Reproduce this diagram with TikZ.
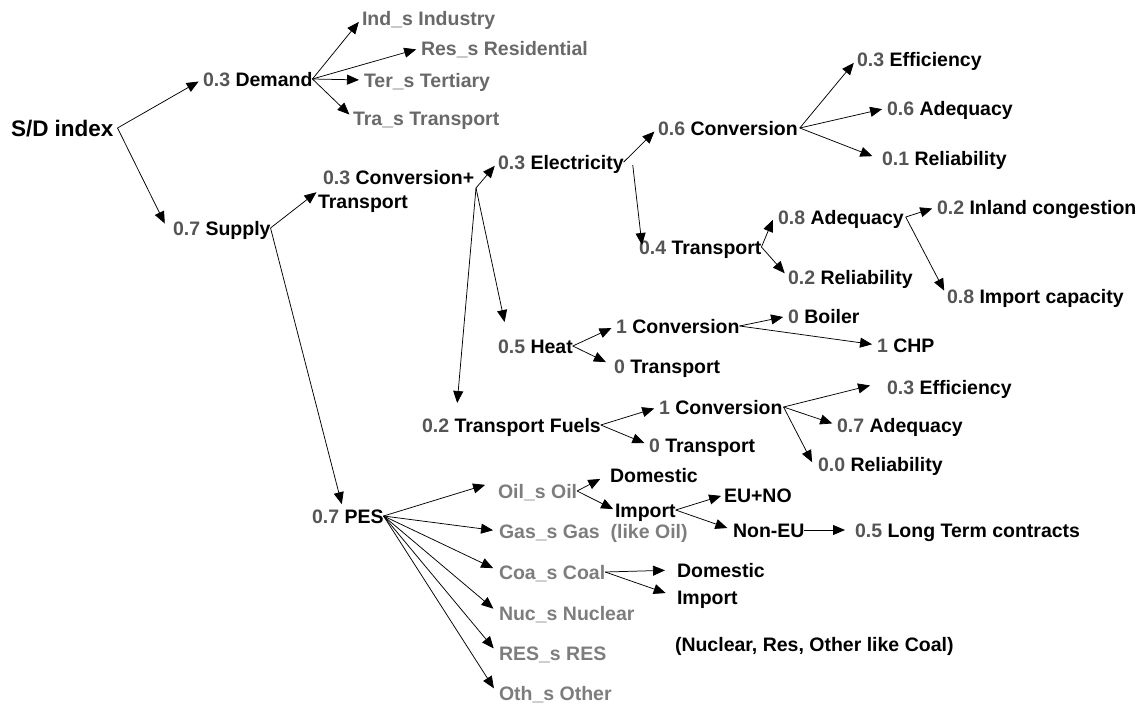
\documentclass[tikz,border=0pt]{standalone}
\usepackage{fontspec}
\setmainfont{Liberation Sans}
\usetikzlibrary{arrows.meta}
\definecolor{numc}{RGB}{85,85,85}
\definecolor{catd}{RGB}{105,105,105}
\definecolor{catp}{RGB}{125,125,125}
\newcommand\wt[1]{\textcolor{numc}{#1}}
\begin{document}
\begin{tikzpicture}[x=1pt,y=-1pt,
  lbl/.style={anchor=west,inner sep=0pt,outer sep=0pt,text height=14pt,text depth=0pt,font=\bfseries\fontsize{19.5}{22}\selectfont},
  cd/.style={lbl,text=catd},
  cp/.style={lbl,text=catp},
  arr/.style={draw=black,line width=0.75pt,-{Triangle[length=12pt,width=10pt]},shorten >=#1},
  arr/.default=5pt]
\useasboundingbox (0,0) rectangle (1143,704);

% ---- nodes ----
\node[lbl,font=\bfseries\fontsize{22.5}{24}\selectfont,text height=16pt] (sd) at (11,128) {S/D index};
\node[lbl] (demand) at (203,79) {\wt{0.3} Demand};
\node[cd] (ind) at (362,18) {Ind\_s Industry};
\node[cd] (res) at (421,48) {Res\_s Residential};
\node[cd] (ter) at (364,80) {Ter\_s Tertiary};
\node[cd] (tra) at (353,118) {Tra\_s Transport};
\node[lbl] (supply) at (173,228) {\wt{0.7} Supply};
\node[lbl] (convp) at (323,177) {\wt{0.3} Conversion+};
\node[lbl] (convpb) at (318,201) {Transport};
\coordinate (cpo) at (476,188);
\node[lbl] (elec) at (498,162) {\wt{0.3} Electricity};
\node[lbl] (conv6) at (658,128) {\wt{0.6} Conversion};
\node[lbl] (eff3) at (857,59) {\wt{0.3} Efficiency};
\node[lbl] (adeq6) at (887,108) {\wt{0.6} Adequacy};
\node[lbl] (rel1) at (882,158) {\wt{0.1} Reliability};
\node[lbl] (tr4) at (639,247) {\wt{0.4} Transport};
\node[lbl] (adeq8) at (778,217) {\wt{0.8} Adequacy};
\node[lbl] (rel2) at (788,277) {\wt{0.2} Reliability};
\node[lbl] (inland) at (937,207) {\wt{0.2} Inland congestion};
\node[lbl] (impcap) at (947,296) {\wt{0.8} Import capacity};
\node[lbl] (heat) at (498,346) {\wt{0.5} Heat};
\node[lbl] (hconv) at (616,326) {\wt{1} Conversion};
\node[lbl] (htr) at (614,366) {\wt{0} Transport};
\node[lbl] (boiler) at (788,316) {\wt{0} Boiler};
\node[lbl] (chp) at (877,345) {\wt{1} CHP};
\node[lbl] (tf) at (422,425) {\wt{0.2} Transport Fuels};
\node[lbl] (tconv) at (659,407) {\wt{1} Conversion};
\node[lbl] (ttr) at (649,445) {\wt{0} Transport};
\node[lbl] (eff3b) at (887,387) {\wt{0.3} Efficiency};
\node[lbl] (adeq7) at (837,425) {\wt{0.7} Adequacy};
\node[lbl] (rel0) at (818,464) {\wt{0.0} Reliability};
\node[lbl] (pes) at (312,516) {\wt{0.7} PES};
\node[cp] (oil) at (498,491) {Oil\_s Oil};
\node[cp] (gas) at (499,531) {Gas\_s Gas\ \ (like Oil)};
\node[cp] (coa) at (499,572) {Coa\_s Coal};
\node[cp] (nuc) at (499,613) {Nuc\_s Nuclear};
\node[cp] (resr) at (499,653) {RES\_s RES};
\node[cp] (oth) at (499,693) {Oth\_s Other};
\node[lbl] (dom1) at (610,475) {Domestic};
\node[lbl] (imp1) at (615,510) {Import};
\node[lbl] (euno) at (724,495) {EU+NO};
\node[lbl] (noneu) at (733,530) {Non-EU};
\node[lbl] (ltc) at (855,530) {\wt{0.5} Long Term contracts};
\node[lbl] (dom2) at (677,570) {Domestic};
\node[lbl] (imp2) at (677,597) {Import};
\node[lbl] (note) at (675,644) {(Nuclear, Res, Other like Coal)};

% ---- connectors ----
\draw[arr] ([xshift=4pt]sd.east) -- (demand.west);
\draw[arr] ([xshift=4pt]sd.east) -- ([xshift=-6pt]supply.west);
\draw[arr] (demand.east) -- (ind.west);
\draw[arr] (demand.east) -- (res.west);
\draw[arr] (demand.east) -- (ter.west);
\draw[arr] (demand.east) -- (tra.west);
\draw[arr=2pt] (supply.east) -- ([yshift=3pt]convpb.north west);
\draw[arr] (supply.east) -- ([xshift=31pt]pes.north west);
\draw[arr] (cpo) -- (elec.west);
\draw[arr=2pt] (cpo) -- ([xshift=7pt,yshift=15pt]heat.north west);
\draw[arr=2pt] (cpo) -- ([xshift=35pt,yshift=13pt]tf.north west);
\draw[arr] (elec.east) -- (conv6.west);
\draw[arr=0pt] ([xshift=9pt,yshift=-3pt]elec.east) -- ([xshift=3pt,yshift=-5pt]tr4.north west);
\draw[arr] ([xshift=2pt]conv6.east) -- (eff3.west);
\draw[arr] ([xshift=2pt]conv6.east) -- (adeq6.west);
\draw[arr] ([xshift=2pt]conv6.east) -- ([xshift=-5pt]rel1.west);
\draw[arr=3pt] (tr4.east) -- ([xshift=-4pt]adeq8.west);
\draw[arr] (tr4.east) -- (rel2.west);
\draw[arr] ([xshift=2pt]adeq8.east) -- (inland.west);
\draw[arr=6pt] ([xshift=2pt]adeq8.east) -- (impcap.west);
\draw[arr] (heat.east) -- (hconv.west);
\draw[arr=9pt] (heat.east) -- (htr.west);
\draw[arr] (hconv.east) -- (boiler.west);
\draw[arr] (hconv.east) -- (chp.west);
\draw[arr] (tf.east) -- (tconv.west);
\draw[arr] (tf.east) -- (ttr.west);
\draw[arr=2pt] ([xshift=1pt]tconv.east) -- ([xshift=-15pt,yshift=2pt]eff3b.west);
\draw[arr] ([xshift=1pt]tconv.east) -- (adeq7.west);
\draw[arr=2pt] ([xshift=1pt]tconv.east) -- ([xshift=-5pt]rel0.west);
\draw[arr=3pt] (pes.east) -- ([xshift=-10pt,yshift=7pt]oil.west);
\draw[arr=6pt] (pes.east) -- (gas.west);
\draw[arr=2pt] (pes.east) -- ([xshift=-4pt,yshift=3pt]coa.west);
\draw[arr=2pt] (pes.east) -- ([xshift=-4pt,yshift=3pt]nuc.west);
\draw[arr=2pt] (pes.east) -- ([xshift=-4pt,yshift=3pt]resr.west);
\draw[arr=2pt] (pes.east) -- ([xshift=-4pt,yshift=3pt]oth.west);
\draw[arr=2pt] (oil.east) -- ([xshift=-8pt,yshift=-3pt]dom1.west);
\draw[arr=2pt] (oil.east) -- (imp1.west);
\draw[arr=3pt] (imp1.east) -- (euno.west);
\draw[arr=6pt] (imp1.east) -- (noneu.west);
\draw[arr=10pt] (noneu.east) -- (ltc.west);
\draw[arr=12pt] (coa.east) -- (dom2.west);
\draw[arr=12pt] (coa.east) -- (imp2.west);
\end{tikzpicture}
\end{document}
